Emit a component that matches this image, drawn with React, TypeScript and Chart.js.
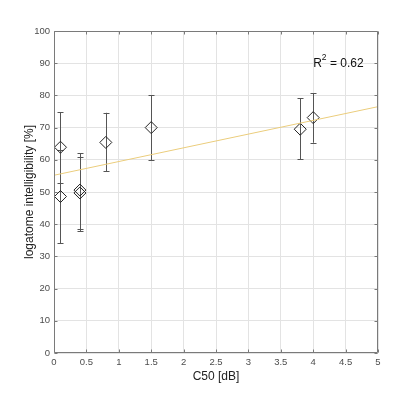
import React, { useEffect, useRef } from 'react';
import { Chart, registerables } from 'chart.js';
Chart.register(...registerables);

const xValues = [0.1, 0.1, 0.4, 0.4, 0.8, 1.5, 3.8, 4.0];
const meanValues = [63.9, 48.6, 50.6, 49.7, 65.4, 70.0, 69.5, 73.1];
const upperValues = [74.8, 63.1, 62.1, 61.0, 74.6, 80.0, 79.1, 80.7];
const lowerValues = [52.7, 34.1, 38.6, 37.9, 56.4, 59.8, 60.2, 65.3];
const fitX = [0, 5];
const fitY = [55.2, 76.5];
const xTitle = 'C50 [dB]';
const yTitle = 'logatome intelligibility [%]';
const r2Label = { x: 4.0, y: 90, base: 'R', sup: '2', rest: ' = 0.62' };

const FONT = '"Liberation Sans", Arial, Helvetica, sans-serif';
const AXIS = '#7a7a7a';

const decorPlugin = {
  id: 'decor',
  beforeDatasetsDraw(chart: any) {
    const ctx = chart.ctx;
    const xs = chart.scales.x;
    const ys = chart.scales.y;
    ctx.save();
    ctx.strokeStyle = '#555555';
    ctx.lineWidth = 1;
    for (let i = 0; i < xValues.length; i++) {
      const px = Math.round(xs.getPixelForValue(xValues[i])) + 0.5;
      const pu = ys.getPixelForValue(upperValues[i]);
      const pl = ys.getPixelForValue(lowerValues[i]);
      ctx.beginPath();
      ctx.moveTo(px, pu);
      ctx.lineTo(px, pl);
      ctx.moveTo(px - 3, Math.round(pu) + 0.5);
      ctx.lineTo(px + 3, Math.round(pu) + 0.5);
      ctx.moveTo(px - 3, Math.round(pl) + 0.5);
      ctx.lineTo(px + 3, Math.round(pl) + 0.5);
      ctx.stroke();
    }
    ctx.restore();
  },
  afterDraw(chart: any) {
    const ctx = chart.ctx;
    const a = chart.chartArea;
    const xs = chart.scales.x;
    const ys = chart.scales.y;
    ctx.save();
    ctx.strokeStyle = AXIS;
    ctx.lineWidth = 1;
    const L = Math.round(a.left) + 0.5;
    const R = Math.round(a.right) - 0.5;
    const T = Math.round(a.top) + 0.5;
    const B = Math.round(a.bottom) - 0.5;
    ctx.beginPath();
    ctx.rect(L, T, R - L, B - T);
    ctx.stroke();
    ctx.beginPath();
    xs.ticks.forEach((t: any) => {
      const p = Math.round(xs.getPixelForValue(t.value)) + 0.5;
      ctx.moveTo(p, B);
      ctx.lineTo(p, B - 3);
      ctx.moveTo(p, T);
      ctx.lineTo(p, T + 3);
    });
    ys.ticks.forEach((t: any) => {
      const p = Math.round(ys.getPixelForValue(t.value)) + 0.5;
      ctx.moveTo(L, p);
      ctx.lineTo(L + 3, p);
      ctx.moveTo(R, p);
      ctx.lineTo(R - 3, p);
    });
    ctx.stroke();

    const tx = xs.getPixelForValue(r2Label.x);
    const ty = ys.getPixelForValue(r2Label.y);
    ctx.fillStyle = '#111111';
    ctx.textBaseline = 'middle';
    ctx.textAlign = 'left';
    ctx.font = `12px ${FONT}`;
    ctx.fillText(r2Label.base, tx, ty);
    const w = ctx.measureText(r2Label.base).width;
    ctx.font = `8.5px ${FONT}`;
    ctx.fillText(r2Label.sup, tx + w, ty - 6);
    const w2 = ctx.measureText(r2Label.sup).width;
    ctx.font = `12px ${FONT}`;
    ctx.fillText(r2Label.rest, tx + w + w2, ty);
    ctx.restore();
  },
};

export default function App() {
  const ref = useRef<HTMLCanvasElement>(null);
  useEffect(() => {
    if (!ref.current) return;
    const chart = new Chart(ref.current, {
      type: 'scatter',
      data: {
        datasets: [
          {
            type: 'line',
            data: fitX.map((x, i) => ({ x, y: fitY[i] })),
            borderColor: '#ebcd7c',
            borderWidth: 1,
            pointRadius: 0,
            fill: false,
          } as any,
          {
            type: 'scatter',
            data: xValues.map((x, i) => ({ x, y: meanValues[i] })),
            pointStyle: 'rectRot',
            pointRadius: 6,
            pointBorderColor: '#222222',
            pointBackgroundColor: 'rgba(0,0,0,0)',
            pointBorderWidth: 1,
          },
        ],
      },
      options: {
        responsive: false,
        animation: false,
        devicePixelRatio: 1,
        layout: { padding: { left: 0, top: 31, right: 40, bottom: 0 } },
        plugins: { legend: { display: false }, tooltip: { enabled: false } },
        scales: {
          x: {
            type: 'linear',
            min: 0,
            max: 5,
            afterFit: (s: any) => { s.height = 44; },
            ticks: {
              stepSize: 0.5,
              padding: 4,
              color: '#4d4d4d',
              font: { family: FONT, size: 9.5 },
              callback: (v: any) => String(Math.round(Number(v) * 10) / 10),
            },
            grid: { color: '#e3e3e3', drawTicks: false },
            border: { display: false },
            title: { display: true, text: xTitle, color: '#222222', font: { family: FONT, size: 12 }, padding: { top: 0, bottom: 13 } },
          },
          y: {
            type: 'linear',
            min: 0,
            max: 100,
            afterFit: (s: any) => { s.width = 54; },
            ticks: { stepSize: 10, padding: 4, color: '#4d4d4d', font: { family: FONT, size: 9.5 } },
            grid: { color: '#e3e3e3', drawTicks: false },
            border: { display: false },
            title: { display: true, text: yTitle, color: '#222222', font: { family: FONT, size: 12 }, padding: { top: 22, bottom: 0 } },
          },
        },
      },
      plugins: [decorPlugin],
    });
    return () => chart.destroy();
  }, []);
  return (
    <div style={{ position: 'fixed', left: 0, top: 0, width: 418, height: 397, background: '#ffffff' }}>
      <canvas ref={ref} width={418} height={397} style={{ width: 418, height: 397, display: 'block' }} />
    </div>
  );
}
